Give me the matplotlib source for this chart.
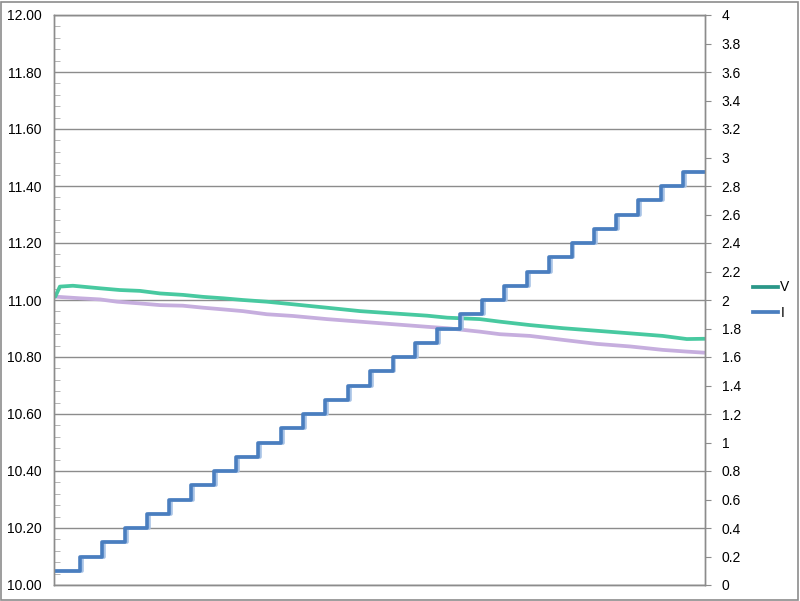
import matplotlib
matplotlib.use("Agg")
import matplotlib.pyplot as plt
import matplotlib.patches as patches
from matplotlib.lines import Line2D
from matplotlib.ticker import MultipleLocator, FormatStrFormatter, FuncFormatter

# sample index (0..1000 across the plot width)
v_x = [0, 2, 9, 29, 71, 101, 132, 163, 198, 229, 260, 290, 327, 367, 419,
       470, 521, 573, 604, 654, 685, 731, 782, 834, 885, 935, 972, 1000]
v_vals = [11.012, 11.012, 11.047, 11.050, 11.041, 11.035, 11.032, 11.023,
          11.018, 11.011, 11.006, 11.000, 10.994, 10.985, 10.973, 10.961,
          10.953, 10.945, 10.938, 10.933, 10.924, 10.912, 10.901, 10.892,
          10.883, 10.874, 10.863, 10.864]

v2_x = [0, 40, 71, 97, 132, 163, 198, 229, 260, 290, 327, 367, 419, 470,
        521, 573, 604, 654, 685, 731, 782, 834, 885, 935, 972, 1000]
v2_vals = [11.012, 11.006, 11.002, 10.994, 10.988, 10.982, 10.980, 10.973,
           10.967, 10.961, 10.950, 10.944, 10.933, 10.924, 10.915, 10.906,
           10.901, 10.889, 10.880, 10.874, 10.860, 10.846, 10.837, 10.825,
           10.819, 10.815]

i_x = [0, 40, 74, 109, 143, 177, 211, 246, 280, 314, 349, 383, 417, 452,
       486, 520, 554, 589, 623, 657, 692, 726, 760, 795, 829, 863, 897,
       932, 966, 1000]
i_vals = [0.1, 0.2, 0.3, 0.4, 0.5, 0.6, 0.7, 0.8, 0.9, 1.0, 1.1, 1.2, 1.3,
          1.4, 1.5, 1.6, 1.7, 1.8, 1.9, 2.0, 2.1, 2.2, 2.3, 2.4, 2.5, 2.6,
          2.7, 2.8, 2.9, 2.9]

GREEN = "#48c9a0"
GREEN_DARK = "#2a9788"
PURPLE = "#c6aede"
BLUE = "#4a7ebf"
BLUE_LIGHT = "#a8c3e6"
GRID = "#8c8c8c"

plt.rcParams["font.family"] = ["Liberation Sans", "DejaVu Sans"]

fig = plt.figure(figsize=(8.0, 6.01), dpi=100)
ax = fig.add_axes([54 / 800, 16 / 601, 651 / 800, 570 / 601])
ax2 = ax.twinx()

ax.plot(v2_x, v2_vals, color=PURPLE, lw=2.7, solid_capstyle="butt")
ax.plot(v_x, v_vals, color=GREEN, lw=2.7, solid_capstyle="butt")

shadow_x = [x + 3 if 0 < x < 1000 else x for x in i_x]
ax2.plot(shadow_x, i_vals, color=BLUE_LIGHT, lw=2.6, drawstyle="steps-post")
ax2.plot(i_x, i_vals, color=BLUE, lw=2.6, drawstyle="steps-post")

ax.set_xlim(0, 1000)
ax.set_ylim(10.0, 12.0)
ax2.set_ylim(0, 4)

ax.yaxis.set_major_locator(MultipleLocator(0.2))
ax.yaxis.set_minor_locator(MultipleLocator(0.04))
ax.yaxis.set_major_formatter(FormatStrFormatter("%.2f"))
ax2.yaxis.set_major_locator(MultipleLocator(0.2))
ax2.yaxis.set_major_formatter(FuncFormatter(lambda v, p: f"{v:g}"))

ax.grid(axis="y", which="major", color=GRID, lw=1.0)
ax.set_axisbelow(True)
ax.set_xticks([])

ax.tick_params(axis="y", which="major", length=0, pad=9, labelsize=10)
ax.tick_params(axis="y", which="minor", direction="in", length=4,
               color="#aaaaaa")
ax2.tick_params(axis="y", which="major", direction="out", length=4,
                color=GRID, pad=8, labelsize=10)

for a in (ax, ax2):
    for s in a.spines.values():
        s.set_color(GRID)
        s.set_linewidth(1.0)

handles = [Line2D([], [], color=GREEN_DARK, lw=2.7),
           Line2D([], [], color=BLUE, lw=2.7)]
fig.legend(handles, ["V", "I"], loc="center left",
           bbox_to_anchor=(740 / 800, 1 - 300 / 601), frameon=False,
           fontsize=10, handlelength=1.8, handletextpad=0.2,
           labelspacing=0.8)

fig.patches.append(patches.Rectangle((1 / 800, 1 / 601), 797 / 800, 598 / 601,
                                     transform=fig.transFigure, fill=False,
                                     edgecolor=GRID, lw=1.2))

fig.savefig("out.png", dpi=100)
